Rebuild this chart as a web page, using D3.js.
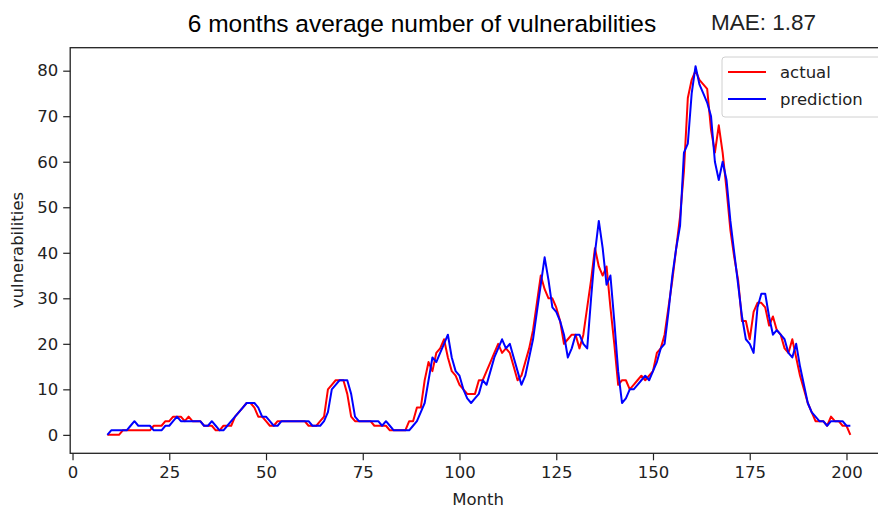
<!DOCTYPE html>
<html>
<head>
<meta charset="utf-8">
<script src="https://cdn.jsdelivr.net/npm/d3@7"></script>
<style>
  body { margin: 0; background: #fff; }
  #chart { width: 878px; height: 511px; }
</style>
</head>
<body>
<div id="chart"></div>
<script>
// months 9..201
const firstMonth = 9;
const actual = [
  0,0,0,0,1,1,1,1,1,1,
  1,1,2,2,2,3,3,4,4,4,
  3,4,3,3,3,2,2,2,1,1,
  2,2,2,4,5,6,7,7,6,4,
  4,3,2,2,3,3,3,3,3,3,
  3,3,2,2,2,3,4,10,11,12,
  12,12,9,4,3,3,3,3,3,2,
  2,2,2,1,1,1,1,1,3,3,
  6,6,12,16,14,18,19,21,17,14,
  13,11,10,9,9,9,12,12,14,16,
  18,20,18,19,18,15,12,13,16,19,
  23,29,35,32,30,30,28,25,20,21,
  22,22,19,22,28,34,41,37,35,37,
  28,20,11,12,12,10,11,12,13,12,
  13,14,18,19,22,28,34,41,48,58,
  74,78,80,78,77,76,67,62,68,62,
  54,45,39,34,25,25,21,27,29,29,
  28,24,26,23,22,19,18,21,17,13,
  10,7,5,3,3,3,2,4,3,3,
  2,2,0
];
const prediction = [
  0,1,1,1,1,1,2,3,2,2,
  2,2,1,1,1,2,2,3,4,3,
  3,3,3,3,3,2,2,3,2,1,
  1,2,3,4,5,6,7,7,7,6,
  4,4,3,2,2,3,3,3,3,3,
  3,3,3,2,2,2,3,5,10,11,
  12,12,12,9,4,3,3,3,3,3,
  3,2,3,2,1,1,1,1,1,2,
  3,5,7,12,17,16,18,20,22,17,
  14,13,10,8,7,8,9,12,11,14,
  17,19,21,19,20,17,14,11,13,17,
  21,27,33,39,34,28,27,25,22,17,
  19,22,22,20,19,30,40,47,41,33,
  35,25,14,7,8,10,10,11,12,13,
  12,14,16,19,20,27,35,41,46,62,
  64,75,81,77,75,73,70,60,56,60,
  56,47,40,33,26,21,20,18,28,31,
  31,26,22,23,22,21,18,17,20,15,
  11,7,5,4,3,3,2,3,3,3,
  3,2,2
];
const xTicks = [0, 25, 50, 75, 100, 125, 150, 175, 200];
const yTicks = [0, 10, 20, 30, 40, 50, 60, 70, 80];
const seriesNames = ["actual", "prediction"];
const seriesColors = ["#ff0000", "#0000ff"];

const width = 878, height = 511;
const plot = { left: 70.2, right: 887.5, top: 47.7, bottom: 453.3 };

const svg = d3.select("#chart").append("svg")
  .attr("width", width).attr("height", height)
  .style("font-family", "DejaVu Sans, sans-serif");

const x = d3.scaleLinear().domain([-0.6, 210.6]).range([plot.left, plot.right]);
const y = d3.scaleLinear().domain([-4.05, 85.05]).range([plot.bottom, plot.top]);

const toPoints = arr => arr.map((v, i) => ({ m: firstMonth + i, v: v }));
const line = d3.line().x(d => x(d.m)).y(d => y(d.v));

// lines
[actual, prediction].forEach((arr, i) => {
  svg.append("path")
    .datum(toPoints(arr))
    .attr("fill", "none")
    .attr("stroke", seriesColors[i])
    .attr("stroke-width", 2)
    .attr("stroke-linejoin", "round")
    .attr("d", line);
});

// axes
const xAxis = svg.append("g")
  .attr("transform", `translate(0,${plot.bottom})`)
  .call(d3.axisBottom(x).tickValues(xTicks).tickSize(7).tickPadding(6));
const yAxis = svg.append("g")
  .attr("transform", `translate(${plot.left},0)`)
  .call(d3.axisLeft(y).tickValues(yTicks).tickSize(7).tickPadding(5));
[xAxis, yAxis].forEach(g => {
  g.select(".domain").remove();
  g.selectAll("line").attr("stroke", "#222").attr("stroke-width", 1.2);
  g.selectAll("text").attr("fill", "#222")
    .style("font-family", "DejaVu Sans, sans-serif").style("font-size", "16.5px");
});

// spines
svg.append("rect")
  .attr("x", plot.left).attr("y", plot.top)
  .attr("width", plot.right - plot.left).attr("height", plot.bottom - plot.top)
  .attr("fill", "none").attr("stroke", "#222").attr("stroke-width", 1.3);

// title + MAE
svg.append("text")
  .attr("x", 422).attr("y", 32)
  .attr("text-anchor", "middle")
  .style("font-family", "Liberation Sans, Arial, sans-serif")
  .style("font-size", "24.5px")
  .attr("fill", "#000")
  .text("6 months average number of vulnerabilities");
svg.append("text")
  .attr("x", 711).attr("y", 30)
  .style("font-family", "Liberation Sans, Arial, sans-serif")
  .style("font-size", "22.5px")
  .attr("fill", "#222")
  .text("MAE: 1.87");

// axis labels
svg.append("text")
  .attr("x", 478).attr("y", 505)
  .attr("text-anchor", "middle")
  .style("font-size", "16.5px").attr("fill", "#222")
  .text("Month");
svg.append("text")
  .attr("transform", "translate(23,250) rotate(-90)")
  .attr("text-anchor", "middle")
  .style("font-size", "16.5px").attr("fill", "#222")
  .text("vulnerabilities");

// legend
const legend = svg.append("g").attr("transform", "translate(722,57)");
legend.append("rect")
  .attr("width", 160).attr("height", 60).attr("rx", 3)
  .attr("fill", "#fff").attr("fill-opacity", 0.8)
  .attr("stroke", "#d0d0d0").attr("stroke-width", 1);
seriesNames.forEach((name, i) => {
  const ly = 15 + i * 27;
  legend.append("line")
    .attr("x1", 6).attr("x2", 44).attr("y1", ly).attr("y2", ly)
    .attr("stroke", seriesColors[i]).attr("stroke-width", 2);
  legend.append("text")
    .attr("x", 58).attr("y", ly + 6)
    .style("font-size", "16.5px").attr("fill", "#222")
    .text(name);
});
</script>
</body>
</html>
